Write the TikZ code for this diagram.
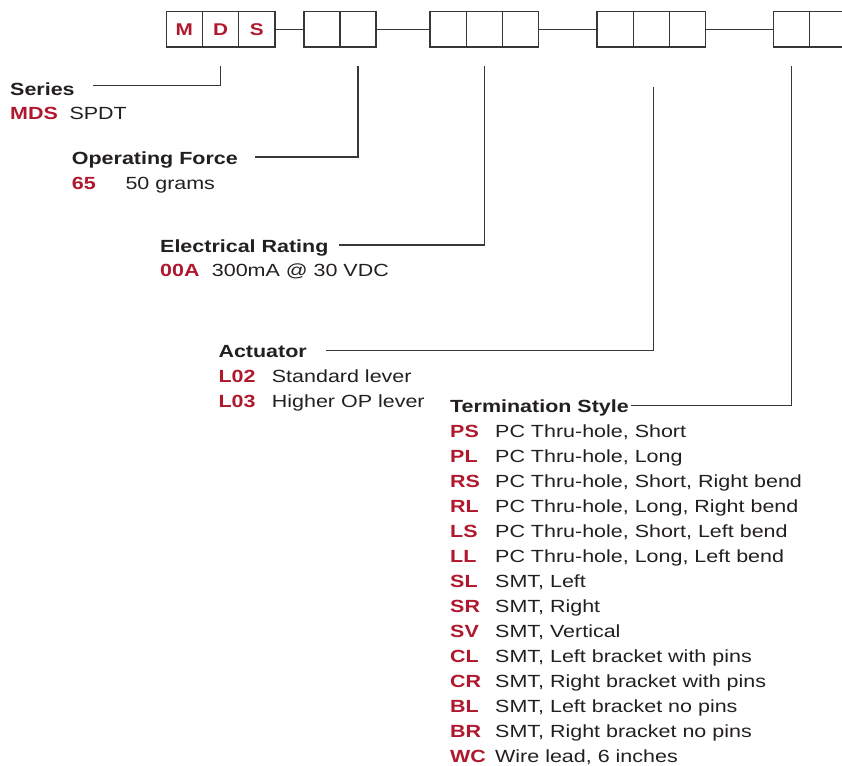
\documentclass[tikz,border=0pt]{standalone}
\usepackage{fontspec}
\setmainfont[FakeStretch=1.22]{Liberation Sans}
\usepackage{tikz}
\usetikzlibrary{positioning}
\definecolor{mdsred}{RGB}{176,24,46}
\definecolor{ink}{RGB}{35,31,32}
\definecolor{rulegray}{RGB}{55,55,55}
\newcommand\partfont{\fontsize{17.6}{21}\selectfont}

\tikzset{
    slot/.style={draw=rulegray, line width=1.5pt, minimum width=36.2pt, minimum height=35.5pt,
        inner sep=0pt, anchor=north west, text=mdsred, font=\fontsize{17}{19}\selectfont\bfseries},
    head/.style={anchor=base west, inner sep=0pt, text=ink, font=\partfont\bfseries,
        text height=14pt, text depth=0pt},
    code/.style={anchor=base west, inner sep=0pt, text=mdsred, font=\partfont\bfseries},
    desc/.style={anchor=base west, inner sep=0pt, text=ink, font=\partfont},
    wire/.style={draw=rulegray, line width=1.2pt},
}

\begin{document}
\begin{tikzpicture}[x=1pt, y=-1pt]
            \useasboundingbox (0,0) rectangle (842,765);
            % part number boxes
            \node [slot] (b11) at (165.5, 11) {M};
            \node [slot] (b12) at (201.7, 11) {D};
            \node [slot] (b13) at (237.9, 11) {S};
            \foreach \g/\x/\n in {2/303/2, 3/429.3/3, 4/596.3/3, 5/772.5/2}{
                \foreach \i in {1,...,\n}{
                    \pgfmathsetmacro\xx{\x + (\i-1)*36.2}
                    \node [slot] (b\g\i) at (\xx, 11) {};
                };
            };
            \draw [wire] (b13.east) -- (b21.west);
            \draw [wire] (b22.east) -- (b31.west);
            \draw [wire] (b33.east) -- (b41.west);
            \draw [wire] (b43.east) -- (b51.west);

            \coordinate (t1) at ([yshift=-18pt]b12.south);
            \coordinate (t2) at ([yshift=-18pt]b22.south);
            \coordinate (t3) at ([yshift=-18pt]b32.south);
            \coordinate (t4) at ([xshift=2pt, yshift=-39pt]b42.south);
            \coordinate (t5) at ([yshift=-18pt]b51.south);

            \node [head] (series) at (10, 95.7) {Series};
            \node [code] (mds) at (10, 120) {MDS};
            \node [desc] (spdt) at (69.3, 120) {SPDT};

            \node [head] (force) at (71.7, 164) {Operating Force};
            \node [code] (f65) at (71.7, 189.3) {65};
            \node [desc] (grams) at (125.3, 189.3) {50 grams};

            \node [head] (rating) at (160, 252) {Electrical Rating};
            \node [code] (r00a) at (160, 276.7) {00A};
            \node [desc] (vdc) at (211.7, 276.7) {300mA @ 30 VDC};

            \node [head] (actuator) at (218.3, 357.3) {Actuator};
            \node [code] (l02) at (218.3, 382.7) {L02};
            \node [desc] (std) at (271.7, 382.7) {Standard lever};
            \node [code] (l03) at (218.3, 407.7) {L03};
            \node [desc] (higher) at (271.7, 407.7) {Higher OP lever};

            \node [head] (term) at (450, 412.7) {Termination Style};
            \foreach \c/\d [count=\i] in {PS/{PC Thru-hole, Short}, PL/{PC Thru-hole, Long},
                RS/{PC Thru-hole, Short, Right bend}, RL/{PC Thru-hole, Long, Right bend},
                LS/{PC Thru-hole, Short, Left bend}, LL/{PC Thru-hole, Long, Left bend},
                SL/{SMT, Left}, SR/{SMT, Right}, SV/{SMT, Vertical},
                CL/{SMT, Left bracket with pins}, CR/{SMT, Right bracket with pins},
                BL/{SMT, Left bracket no pins}, BR/{SMT, Right bracket no pins},
                WC/{Wire lead, 6 inches}}{
                \pgfmathsetmacro\yy{412.7 + 25*\i}
                \node [code] (c\i) at (450, \yy) {\c};
                \node [desc] (d\i) at (495, \yy) {\d};
            };

            % leaders
            \draw [wire] (t1) |- ([xshift=18.5pt, yshift=3pt]series.east);
            \draw [wire] (t2) |- ([xshift=17.4pt]force.east);
            \draw [wire] (t3) |- ([xshift=10.7pt]rating.east);
            \draw [wire] (t4) |- ([xshift=19pt]actuator.east);
            \draw [wire] (t5) |- ([xshift=2.5pt]term.east);
\end{tikzpicture}
\end{document}
